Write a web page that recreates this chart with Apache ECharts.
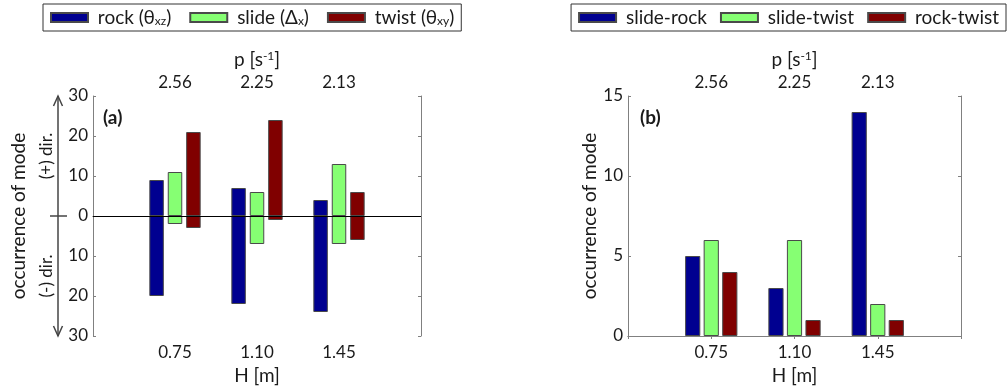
<!DOCTYPE html>
<html>
<head>
<meta charset="utf-8">
<script src="https://cdn.jsdelivr.net/npm/echarts@6/dist/echarts.min.js"></script>
<style>
  html, body { margin: 0; padding: 0; background: #fff; }
  #chart { width: 1008px; height: 392px; }
</style>
</head>
<body>
<div id="chart"></div>
<script>
// Category slots: the outer two are empty padding on each side of the three heights
const heightCats = ['', '0.75', '1.10', '1.45', ''];
const freqLabels = ['', '2.56', '2.25', '2.13', ''];

// Panel (a): occurrences of each mode in the (+) and (-) direction
const rockUp = [9, 7, 4];
const rockDown = [20, 22, 24];
const slideUp = [11, 6, 13];
const slideDown = [2, 7, 7];
const twistUp = [21, 24, 6];
const twistDown = [3, 1, 6];

// Panel (b): occurrences of coupled modes
const slideRock = [5, 3, 14];
const slideTwist = [6, 6, 2];
const rockTwist = [4, 1, 1];

const FONT = 'Lato';
const AXIS_GRAY = '#808080';
const TEXT = '#1a1a1a';
const BLUE = '#000090';
const GREEN = '#86ff73';
const RED = '#800000';
const EDGE = '#4a4a4a';

const pad = arr => [null, ...arr, null];

const legendNames = {
  rock: ' rock (θ{sub|xz})',
  slide: ' slide (Δ{sub|x})',
  twist: ' twist (θ{sub|xy})'
};

const subRich = {
  sub: { fontSize: 12, fontFamily: FONT, color: TEXT, verticalAlign: 'bottom', lineHeight: 12 },
  sup: { fontSize: 12, fontFamily: FONT, color: TEXT, verticalAlign: 'top', lineHeight: 12 }
};

function rangeSeries(name, color, up, down, extra) {
  const common = {
    type: 'bar', name, stack: name, xAxisIndex: 0, yAxisIndex: 0,
    barWidth: 14.5, barGap: '27%',
    itemStyle: { color, borderColor: EDGE, borderWidth: 1 }
  };
  return [
    Object.assign({}, common, { data: pad(up) }),
    Object.assign({}, common, { data: pad(down.map(v => -v)) }, extra || {})
  ];
}

function countSeries(name, color, values) {
  return {
    type: 'bar', name, xAxisIndex: 2, yAxisIndex: 2,
    barWidth: 15.2, barGap: '22%',
    itemStyle: { color, borderColor: EDGE, borderWidth: 1 },
    data: pad(values)
  };
}

const axisLine = { show: true, lineStyle: { color: AXIS_GRAY, width: 1 } };
const axisTick = { show: true, inside: true, length: 3, interval: 0, lineStyle: { color: AXIS_GRAY } };
const tickLabel = { fontSize: 17, fontFamily: FONT, color: TEXT };
const nameStyle = { fontSize: 19, fontFamily: FONT, color: TEXT, rich: subRich };

function bottomAxis(gridIndex) {
  return {
    type: 'category', gridIndex, position: 'bottom', data: heightCats, boundaryGap: false,
    axisLine, axisTick,
    axisLabel: Object.assign({ interval: 0, margin: 8 }, tickLabel),
    splitLine: { show: false },
    name: 'H [m]', nameLocation: 'middle', nameGap: 30, nameTextStyle: nameStyle
  };
}
function topAxis(gridIndex) {
  return {
    type: 'category', gridIndex, position: 'top', data: freqLabels, boundaryGap: false,
    axisLine, axisTick,
    axisLabel: Object.assign({ interval: 0, margin: 5 }, tickLabel),
    splitLine: { show: false },
    name: 'p [s{sup|-1}]', nameLocation: 'middle', nameGap: 27, nameTextStyle: nameStyle
  };
}

const legendBase = {
  orient: 'horizontal', top: 4, itemWidth: 37, itemHeight: 9, icon: 'rect',
  padding: [4, 7, 4, 7], borderColor: '#333', borderWidth: 1
};

const chart = echarts.init(document.getElementById('chart'), null, { renderer: 'canvas' });

chart.setOption({
  animation: false,
  backgroundColor: '#fff',
  textStyle: { fontFamily: FONT },
  grid: [
    { left: 93, top: 96, width: 328, height: 240 },
    { left: 628, top: 96, width: 333, height: 240 }
  ],
  legend: [
    Object.assign({}, legendBase, {
      data: ['rock', 'slide', 'twist'],
      left: 43, width: 440, itemGap: 18,
      formatter: n => legendNames[n],
      textStyle: { fontSize: 19, fontFamily: FONT, color: TEXT, rich: subRich }
    }),
    Object.assign({}, legendBase, {
      data: ['slide-rock', 'slide-twist', 'rock-twist'],
      right: 2, width: 1000, itemGap: 13,
      formatter: n => ' ' + n,
      textStyle: { fontSize: 19, fontFamily: FONT, color: TEXT }
    })
  ],
  xAxis: [bottomAxis(0), topAxis(0), bottomAxis(1), topAxis(1)],
  yAxis: [
    {
      type: 'value', gridIndex: 0, position: 'left', min: -30, max: 30, interval: 10,
      axisLine, axisTick, splitLine: { show: false },
      axisLabel: Object.assign({ margin: 5, formatter: v => String(Math.abs(v)) }, tickLabel),
      name: 'occurrence of mode', nameLocation: 'middle', nameGap: 65, nameTextStyle: nameStyle
    },
    {
      type: 'value', gridIndex: 0, position: 'right', min: -30, max: 30, interval: 10,
      axisLine, axisTick, splitLine: { show: false }, axisLabel: { show: false }
    },
    {
      type: 'value', gridIndex: 1, position: 'left', min: 0, max: 15, interval: 5,
      axisLine, axisTick, splitLine: { show: false },
      axisLabel: Object.assign({ margin: 5 }, tickLabel),
      name: 'occurrence of mode', nameLocation: 'middle', nameGap: 28, nameTextStyle: nameStyle
    },
    {
      type: 'value', gridIndex: 1, position: 'right', min: 0, max: 15, interval: 5,
      axisLine, axisTick, splitLine: { show: false }, axisLabel: { show: false }
    }
  ],
  series: [
    ...rangeSeries('rock', BLUE, rockUp, rockDown),
    ...rangeSeries('slide', GREEN, slideUp, slideDown),
    ...rangeSeries('twist', RED, twistUp, twistDown, {
      markLine: {
        silent: true, symbol: 'none', label: { show: false },
        lineStyle: { color: '#000', width: 1, type: 'solid' },
        data: [{ yAxis: 0 }]
      }
    }),
    countSeries('slide-rock', BLUE, slideRock),
    countSeries('slide-twist', GREEN, slideTwist),
    countSeries('rock-twist', RED, rockTwist)
  ]
});

// Direction arrow beside the left axis of panel (a), placed through the axis scale
const yTop = chart.convertToPixel({ yAxisIndex: 0 }, 30);
const yZero = chart.convertToPixel({ yAxisIndex: 0 }, 0);
const yBot = chart.convertToPixel({ yAxisIndex: 0 }, -30);
const yPlus = chart.convertToPixel({ yAxisIndex: 0 }, 15);
const yMinus = chart.convertToPixel({ yAxisIndex: 0 }, -15);
const ax = 58;
const arrowStyle = { stroke: '#444', lineWidth: 1.5, fill: null };

chart.setOption({
  graphic: [
    { type: 'line', shape: { x1: ax, y1: yTop, x2: ax, y2: yBot }, style: arrowStyle },
    { type: 'polyline', shape: { points: [[ax - 4.5, yTop + 10], [ax, yTop], [ax + 4.5, yTop + 10]] }, style: arrowStyle },
    { type: 'polyline', shape: { points: [[ax - 4.5, yBot - 10], [ax, yBot], [ax + 4.5, yBot - 10]] }, style: arrowStyle },
    { type: 'line', shape: { x1: ax - 8, y1: yZero, x2: ax + 9, y2: yZero }, style: arrowStyle },
    {
      type: 'text', x: 47, y: yPlus, rotation: Math.PI / 2,
      style: { text: '(+) dir.', font: '17px ' + FONT, fill: TEXT, align: 'center', verticalAlign: 'middle' }
    },
    {
      type: 'text', x: 47, y: yMinus, rotation: Math.PI / 2,
      style: { text: '(-) dir.', font: '17px ' + FONT, fill: TEXT, align: 'center', verticalAlign: 'middle' }
    },
    {
      type: 'text', x: 103, y: 108,
      style: { text: '(a)', font: 'bold 19px ' + FONT, fill: TEXT }
    },
    {
      type: 'text', x: 640, y: 108,
      style: { text: '(b)', font: 'bold 19px ' + FONT, fill: TEXT }
    }
  ]
});
</script>
</body>
</html>
